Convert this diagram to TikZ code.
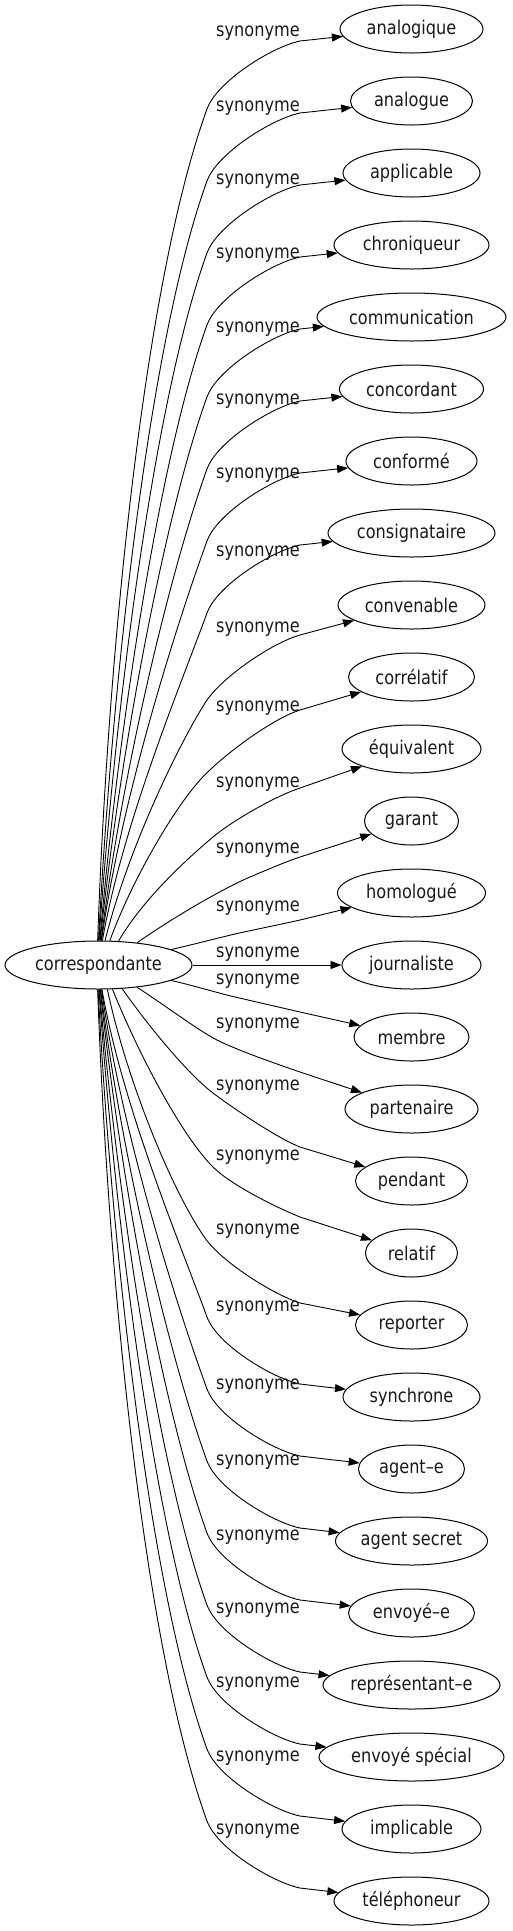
\documentclass[tikz,border=0pt]{standalone}
\usepackage{fontspec}
\setmainfont[FakeStretch=0.85]{DejaVu Sans}
\usetikzlibrary{arrows.meta,shapes.geometric}
\tikzset{
  tnode/.style={draw, ellipse, line width=1pt, inner sep=0pt, minimum height=48pt,
    font=\fontsize{19}{22}\selectfont, text=black!90},
  lbl/.style={inner sep=0pt, font=\fontsize{19}{22}\selectfont, text=black!90},
  edge/.style={line width=0.9pt, -{Triangle[length=11pt,width=8pt]}}
}
\newcommand\syn[9]{%
  \pgfmathsetmacro\inA{#7+180}\pgfmathsetmacro\inB{#9+180}%
  \draw[edge] (c.#3) to[out=#4,in=\inA,out looseness=0.9,in looseness=0.55] (#5,-#6)
    to[out=#7,in=\inB,looseness=0.65] (300,-#8) -- (#1)
    node[lbl] at (258,-#2) {synonyme};}
\begin{document}
\begin{tikzpicture}[x=1pt,y=1pt]
\useasboundingbox (0,0) rectangle (512,-1931);
\node[tnode, minimum width=187pt] (c) at (98.5,-965) {correspondante};
\node[tnode, minimum width=143pt] (t0) at (411.5,-29) {analogique};
\node[tnode, minimum width=122pt] (t1) at (411.5,-101) {analogue};
\node[tnode, minimum width=137pt] (t2) at (411.5,-173) {applicable};
\node[tnode, minimum width=155pt] (t3) at (411.5,-245) {chroniqueur};
\node[tnode, minimum width=189pt] (t4) at (411.5,-317) {communication};
\node[tnode, minimum width=144pt] (t5) at (411.5,-389) {concordant};
\node[tnode, minimum width=131pt] (t6) at (411.5,-461) {conformé};
\node[tnode, minimum width=167pt] (t7) at (411.5,-533) {consignataire};
\node[tnode, minimum width=147pt] (t8) at (411.5,-605) {convenable};
\node[tnode, minimum width=126pt] (t9) at (411.5,-677) {corrélatif};
\node[tnode, minimum width=139pt] (t10) at (411.5,-749) {équivalent};
\node[tnode, minimum width=94pt] (t11) at (411.5,-821) {garant};
\node[tnode, minimum width=148pt] (t12) at (411.5,-893) {homologué};
\node[tnode, minimum width=139pt] (t13) at (411.5,-965) {journaliste};
\node[tnode, minimum width=115pt] (t14) at (411.5,-1037) {membre};
\node[tnode, minimum width=133pt] (t15) at (411.5,-1109) {partenaire};
\node[tnode, minimum width=112pt] (t16) at (411.5,-1181) {pendant};
\node[tnode, minimum width=92pt] (t17) at (411.5,-1253) {relatif};
\node[tnode, minimum width=112pt] (t18) at (411.5,-1325) {reporter};
\node[tnode, minimum width=137pt] (t19) at (411.5,-1397) {synchrone};
\node[tnode, minimum width=106pt] (t20) at (411.5,-1469) {agent–e};
\node[tnode, minimum width=152pt] (t21) at (411.5,-1541) {agent secret};
\node[tnode, minimum width=126pt] (t22) at (411.5,-1613) {envoyé–e};
\node[tnode, minimum width=177pt] (t23) at (411.5,-1685) {représentant–e};
\node[tnode, minimum width=185pt] (t24) at (411.5,-1757) {envoyé spécial};
\node[tnode, minimum width=139pt] (t25) at (411.5,-1829) {implicable};
\node[tnode, minimum width=155pt] (t26) at (411.5,-1901) {téléphoneur};
% target, label y, start angle, out angle, Bx, By, B angle, My, M angle
\syn{t0}{33}{92}{88}{207}{109}{70}{41}{12}
\syn{t1}{108}{90.5}{87}{207}{181}{70}{113}{12}
\syn{t2}{181}{89}{86}{207}{253}{70}{185}{12}
\syn{t3}{255}{87.5}{85}{207}{325}{70}{257}{12}
\syn{t4}{329}{86}{84}{207}{397}{70}{329}{12}
\syn{t5}{401}{84.5}{83}{207}{469}{70}{401}{12}
\syn{t6}{475}{83}{82}{207}{541}{70}{473}{12}
\syn{t7}{553}{81.5}{80}{207}{613}{70}{545}{12}
\syn{t8}{629}{75}{76}{205}{703}{58}{635}{16}
\syn{t9}{708}{65}{70}{200}{780}{48}{710}{18}
\syn{t10}{784}{50}{60}{213}{837}{40}{788}{18}
\syn{t11}{850}{30}{35}{250}{877}{23}{857}{18}
\syn{t12}{908}{12}{13}{235}{934}{13}{920}{13}
\syn{t13}{954}{0}{0}{250}{965}{0}{965}{0}
\syn{t14}{981}{348}{-13}{235}{997}{-13}{1012}{-13}
\syn{t15}{1025}{330}{-33}{217}{1040}{-27}{1072}{-19}
\syn{t16}{1087}{315}{-55}{213}{1093}{-37}{1147}{-22}
\syn{t17}{1157}{300}{-68}{213}{1167}{-45}{1217}{-22}
\syn{t18}{1231}{290}{-78}{205}{1238}{-55}{1303}{-18}
\syn{t19}{1308}{278.5}{-80}{207}{1317}{-70}{1384}{-12}
\syn{t20}{1386}{277}{-82}{207}{1389}{-70}{1456}{-12}
\syn{t21}{1462}{275.5}{-83}{207}{1461}{-70}{1528}{-12}
\syn{t22}{1537}{274}{-84}{207}{1533}{-70}{1600}{-12}
\syn{t23}{1610}{272.5}{-85}{207}{1605}{-70}{1672}{-12}
\syn{t24}{1684}{271}{-86}{207}{1677}{-70}{1744}{-12}
\syn{t25}{1758}{269.5}{-87}{207}{1749}{-70}{1816}{-12}
\syn{t26}{1831}{268}{-88}{207}{1821}{-70}{1888}{-12}
\end{tikzpicture}
\end{document}
